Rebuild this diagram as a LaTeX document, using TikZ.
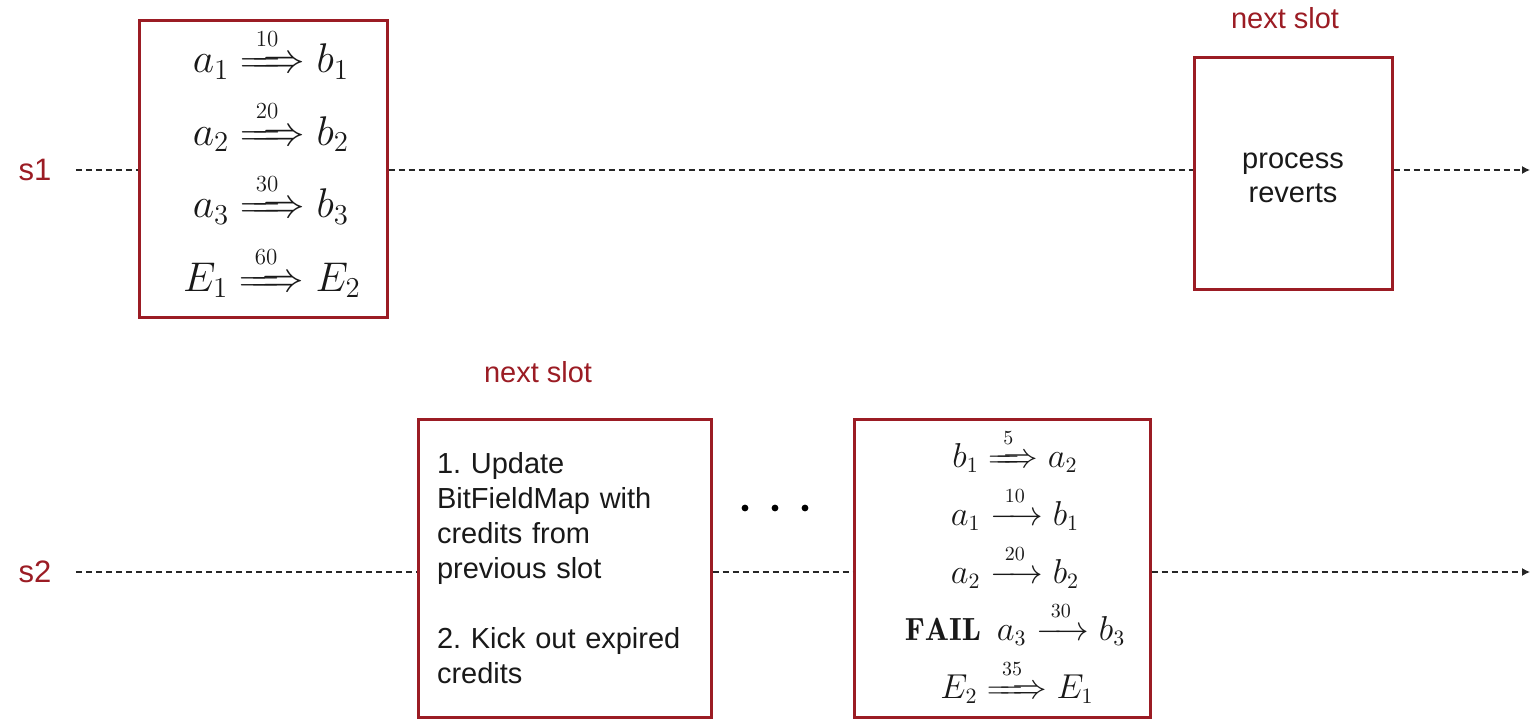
\documentclass[tikz,border=0pt]{standalone}
\usepackage{amsmath}
\usepackage{mathtools}
\usepackage{fontspec}
\newfontfamily\sans{Liberation Sans}
\usetikzlibrary{arrows.meta}
\definecolor{slotred}{RGB}{155,28,36}
\definecolor{inkgray}{RGB}{25,25,25}

% labelled transfer arrows (label size given explicitly, lifted a little)
\newcommand\arrlbl[2]{\text{\raisebox{1.5pt}{\fontsize{#1}{#1}\selectfont #2}}}
\newcommand\bigdbl[1]{\xRightarrow{\hspace{3.5pt}\arrlbl{11.5}{#1}\hspace{3.5pt}}}
\newcommand\smdbl[1]{\xRightarrow{\hspace{4.5pt}\arrlbl{10}{#1}\hspace{4.5pt}}}
\newcommand\smsgl[1]{\xrightarrow{\hspace{4pt}\arrlbl{10}{#1}\hspace{4pt}}}

\begin{document}
\frenchspacing
\begin{tikzpicture}[x=0.5pt,y=-0.5pt,
  slotbox/.style={draw=slotred, line width=1.5pt, rectangle, inner sep=0pt},
  slotlabel/.style={text=slotred, font=\sans\fontsize{14.5}{17}\selectfont, inner sep=0pt},
  lanelabel/.style={text=slotred, font=\sans\fontsize{15.5}{18}\selectfont, inner sep=0pt},
  bigmath/.style={anchor=base, inner sep=0pt, text=inkgray, font=\fontsize{19.5}{24}\selectfont},
  smallmath/.style={anchor=base, inner sep=0pt, text=inkgray, font=\fontsize{16}{19}\selectfont},
  timeline/.style={dash pattern=on 3pt off 2pt, line width=0.6pt, draw=black!85},
  endtip/.style={-{Latex[length=4pt,width=4pt]}},
  dot/.style={circle, fill=black, inner sep=0pt, minimum size=3.4pt}
]
\useasboundingbox (0,0) rectangle (1532,722);

% ---------- lane s1 ----------
\node[lanelabel] (s1) at (35,170) {s1};

\node[slotbox, minimum width=124pt, minimum height=148.5pt] (b1) at (263,169) {};
\node[bigmath] (b1l1) at (271,73)    {$a_1 \bigdbl{10} b_1$};
\node[bigmath] (b1l2) at (271,145.5) {$a_2 \bigdbl{20} b_2$};
\node[bigmath] (b1l3) at (271,218)   {$a_3 \bigdbl{30} b_3$};
\node[bigmath] (b1l4) at (272,291)   {$E_1 \bigdbl{60} E_2$};

\node[slotbox, minimum width=99pt, minimum height=116pt] (b2) at (1293,173.5) {};
\node[text=inkgray, font=\sans\fontsize{14.5}{17}\selectfont, align=center, inner sep=0pt]
  (b2t) at (1293,178) {process\\reverts};
\node[slotlabel] (n1) at (1285,18) {next slot};

\coordinate (e1) at (1530,170);
\draw[timeline] ([xshift=12pt]s1.east) -- (s1 -| b1.west);
\draw[timeline] (s1 -| b1.east) -- (s1 -| b2.west);
\draw[timeline, endtip] (s1 -| b2.east) -- (e1);

% ---------- lane s2 ----------
\node[lanelabel] (s2) at (35,572) {s2};

\node[slotbox, minimum height=149pt, inner xsep=9.5pt, text width=127.5pt, text=inkgray,
      font=\sans\fontsize{14.5}{17.5}\selectfont, align=left] (b3) at (564.5,568)
  {1. Update\\
   BitFieldMap with\\
   credits from\\
   previous slot\\[17.5pt]
   2. Kick out expired\\
   credits};
\node[slotlabel] (n2) at (538,372) {next slot};

\node[dot] (d1) at (745,508) {};
\node[dot] (d2) at (775,508) {};
\node[dot] (d3) at (805,508) {};

\node[slotbox, minimum width=148pt, minimum height=149pt] (b4) at (1002,568) {};
\node[smallmath] (b4l1) at (1015,467) {$b_1 \smdbl{5} a_2$};
\node[smallmath] (b4l2) at (1015,525) {$a_1 \smsgl{10} b_1$};
\node[smallmath] (b4l3) at (1015,583) {$a_2 \smsgl{20} b_2$};
\node[smallmath] (b4l4) at (1015,640) {$\mathbf{FAIL}\enspace a_3 \smsgl{30} b_3$};
\node[smallmath] (b4l5) at (1017,698) {$E_2 \smdbl{35} E_1$};

\coordinate (e2) at (1530,572);
\draw[timeline] ([xshift=12pt]s2.east) -- (s2 -| b3.west);
\draw[timeline] (s2 -| b3.east) -- (s2 -| b4.west);
\draw[timeline, endtip] (s2 -| b4.east) -- (e2);
\end{tikzpicture}
\end{document}
